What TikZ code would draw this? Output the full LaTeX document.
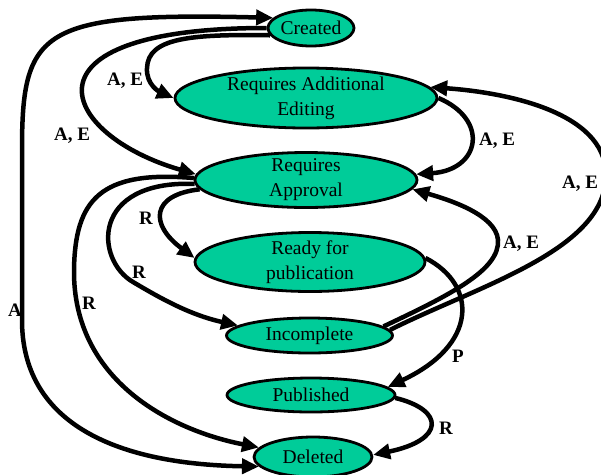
\documentclass[tikz,border=0pt]{standalone}
\usepackage{fontspec}
\setmainfont{Liberation Serif}
\usetikzlibrary{shapes.geometric,arrows.meta}
\definecolor{stategreen}{HTML}{00CC99}
\begin{document}
\begin{tikzpicture}[x=1pt,y=-1pt,
  state/.style={ellipse, draw=black, line width=2.8pt, fill=stategreen,
    inner sep=0pt, align=center, font=\fontsize{19.5}{25}\selectfont},
  twoline/.style={inner ysep=-6pt},
  trans/.style={line width=4.5pt, -{Triangle[length=17pt,width=15pt]}},
  lbl/.style={font=\fontsize{19}{22}\selectfont\bfseries, inner sep=0pt}]
\useasboundingbox (0,0) rectangle (601,474);
\clip (0,0) rectangle (601,474);

% states
\node[state, minimum width=86pt, minimum height=36pt] (cr) at (311,28) {Created};
\node[state, twoline, minimum width=262pt, minimum height=60pt] (rae) at (306,98) {Requires Additional\\Editing};
\node[state, twoline, minimum width=222pt, minimum height=55pt] (ra) at (306,180) {Requires\\Approval};
\node[state, twoline, minimum width=230pt, minimum height=59pt] (rfp) at (310,262) {Ready for\\publication};
\node[state, minimum width=166pt, minimum height=35pt] (inc) at (309.5,335.5) {Incomplete};
\node[state, minimum width=168pt, minimum height=34pt] (pub) at (311,395) {Published};
\node[state, minimum width=118pt, minimum height=40pt] (del) at (313,457) {Deleted};

% transitions out of Created
\draw[trans] (cr.190) .. controls (190,34) and (148,38) .. (147,68)
  .. controls (146,85) and (160,92) .. (rae.180);
\draw[trans] (cr.180) .. controls (10,28) and (60,135) .. (ra.177);
\draw[line width=4.5pt, {Triangle[length=17pt,width=15pt]}-{Triangle[length=17pt,width=15pt]}]
  (cr.165) .. controls (40,12) and (22,30) .. (22,150) -- (22,320)
  .. controls (22,420) and (110,464) .. (del.190);

% transitions out of Requires Approval
\draw[trans] (ra.185) .. controls (150,195) and (150,225) .. (rfp.178);
\draw[trans] (ra.182) .. controls (90,180) and (95,260) .. (133,282)
  .. controls (160,298) and (190,315) .. (inc.172);
\draw[trans] (ra.179) .. controls (100,170) and (75,200) .. (74,270)
  .. controls (73,380) and (170,430) .. (del.170);

% transitions back towards approval / editing
\draw[trans] (rae.0) .. controls (490,120) and (480,170) .. (ra.3);
\draw[trans] (inc.7) .. controls (450,295) and (500,270) .. (498,240)
  .. controls (496,215) and (450,200) .. (ra.-5);
\draw[trans] (inc.4) .. controls (480,285) and (606,250) .. (606,175)
  .. controls (606,110) and (500,92) .. (rae.5);

% publishing and removal
\draw[trans] (rfp.2) .. controls (478,285) and (478,345) .. (pub.6);
\draw[trans] (pub.-2) .. controls (445,410) and (445,440) .. (del.2);

% labels
\node[lbl] (l1) at (125,81) {A, E};
\node[lbl] (l2) at (72,136) {A, E};
\node[lbl] (l3) at (15,310) {A};
\node[lbl] (l4) at (146,218) {R};
\node[lbl] (l5) at (139,272) {R};
\node[lbl] (l6) at (89,303) {R};
\node[lbl] (l7) at (497,141) {A, E};
\node[lbl] (l8) at (580,184) {A, E};
\node[lbl] (l9) at (521,244) {A, E};
\node[lbl] (l10) at (458,356) {P};
\node[lbl] (l11) at (446,428) {R};
\end{tikzpicture}
\end{document}
